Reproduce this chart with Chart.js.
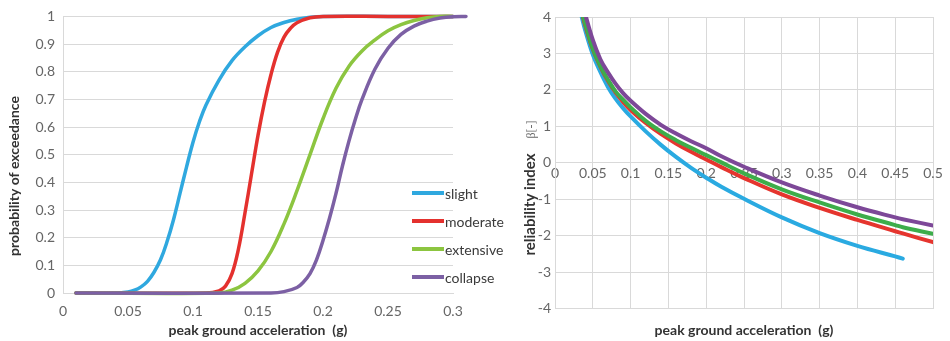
<!DOCTYPE html>
<html>
<head>
<meta charset="utf-8">
<script src="https://cdn.jsdelivr.net/npm/chart.js@4.4.1/dist/chart.umd.min.js"></script>
<style>
  html, body { margin: 0; padding: 0; background: #fff; }
  #wrap { position: relative; width: 950px; height: 341px; }
  #fragility { position: absolute; left: 0; top: 0; }
  #reliability { position: absolute; left: 505px; top: 0; }
</style>
</head>
<body>
<div id="wrap">
  <canvas id="fragility" width="505" height="341"></canvas>
  <canvas id="reliability" width="445" height="341"></canvas>
</div>
<script>
/* globals Chart:false */

// Damage states
const damageStates = ['slight', 'moderate', 'extensive', 'collapse']

// Fragility curves: PGA (g) and probability of exceedance
const pgaSlight = [0.01, 0.04, 0.05, 0.055, 0.06, 0.065, 0.07, 0.075, 0.08, 0.085, 0.09, 0.095, 0.1, 0.105, 0.11, 0.12, 0.13, 0.14, 0.15, 0.16, 0.17, 0.18, 0.19, 0.2, 0.25, 0.3]
const probSlight = [0, 0, 0.004, 0.01, 0.022, 0.042, 0.075, 0.12, 0.185, 0.265, 0.36, 0.455, 0.545, 0.62, 0.68, 0.77, 0.84, 0.89, 0.93, 0.96, 0.978, 0.99, 0.997, 1, 1, 1]

const pgaModerate = [0.01, 0.11, 0.12, 0.125, 0.13, 0.135, 0.14, 0.145, 0.15, 0.155, 0.16, 0.165, 0.17, 0.175, 0.18, 0.19, 0.2, 0.25, 0.3]
const probModerate = [0, 0, 0.008, 0.025, 0.07, 0.16, 0.29, 0.43, 0.57, 0.69, 0.79, 0.87, 0.925, 0.957, 0.977, 0.995, 1, 1, 1]

const pgaExtensive = [0.01, 0.12, 0.13, 0.14, 0.15, 0.16, 0.17, 0.18, 0.19, 0.2, 0.21, 0.22, 0.23, 0.24, 0.25, 0.26, 0.27, 0.28, 0.29, 0.3]
const probExtensive = [0, 0, 0.01, 0.035, 0.08, 0.15, 0.25, 0.37, 0.5, 0.63, 0.74, 0.82, 0.875, 0.915, 0.948, 0.97, 0.985, 0.995, 1, 1]

const pgaCollapse = [0.01, 0.16, 0.17, 0.18, 0.185, 0.19, 0.195, 0.2, 0.205, 0.21, 0.215, 0.22, 0.225, 0.23, 0.24, 0.25, 0.26, 0.27, 0.28, 0.29, 0.3, 0.31]
const probCollapse = [0, 0, 0.005, 0.02, 0.04, 0.07, 0.12, 0.19, 0.27, 0.36, 0.46, 0.55, 0.63, 0.7, 0.81, 0.885, 0.935, 0.965, 0.983, 0.994, 0.999, 1]

// Reliability index vs PGA
const pgaBeta = [0.035, 0.04, 0.05, 0.06, 0.07, 0.08, 0.09, 0.1, 0.12, 0.14, 0.16, 0.18, 0.2, 0.22, 0.25, 0.3, 0.35, 0.4, 0.45, 0.46, 0.5]
const betaSlight = [4.03, 3.63, 2.97, 2.49, 2.08, 1.76, 1.5, 1.27, 0.86, 0.49, 0.16, -0.14, -0.41, -0.66, -0.99, -1.5, -1.93, -2.28, -2.57, -2.63, null]
const betaModerate = [4.16, 3.77, 3.12, 2.64, 2.25, 1.93, 1.67, 1.45, 1.09, 0.79, 0.53, 0.3, 0.09, -0.12, -0.42, -0.87, -1.24, -1.57, -1.88, -1.94, -2.18]
const betaExtensive = [4.2, 3.81, 3.13, 2.65, 2.28, 1.96, 1.73, 1.52, 1.15, 0.86, 0.62, 0.41, 0.21, 0.01, -0.29, -0.73, -1.09, -1.42, -1.71, -1.77, -1.95]
const betaCollapse = [4.5, 4.08, 3.37, 2.84, 2.48, 2.17, 1.91, 1.7, 1.34, 1.04, 0.8, 0.59, 0.4, 0.18, -0.11, -0.54, -0.9, -1.22, -1.5, -1.55, -1.72]

// Tick values and labels
const fragXTicks = [0, 0.05, 0.1, 0.15, 0.2, 0.25, 0.3]
const fragXLabels = ['0', '0.05', '0.1', '0.15', '0.2', '0.25', '0.3']
const fragYTicks = [0, 0.1, 0.2, 0.3, 0.4, 0.5, 0.6, 0.7, 0.8, 0.9, 1]
const fragYLabels = ['0', '0.1', '0.2', '0.3', '0.4', '0.5', '0.6', '0.7', '0.8', '0.9', '1']
const betaXTicks = [0, 0.05, 0.1, 0.15, 0.2, 0.25, 0.3, 0.35, 0.4, 0.45, 0.5]
const betaXLabels = ['0', '0.05', '0.1', '0.15', '0.2', '0.25', '0.3', '0.35', '0.4', '0.45', '0.5']
const betaYTicks = [-4, -3, -2, -1, 0, 1, 2, 3, 4]
const betaYLabels = ['-4', '-3', '-2', '-1', '0', '1', '2', '3', '4']

const fragColors = ['#2fa8df', '#e4312e', '#8cc540', '#7c60a4']
const betaColors = ['#2aaae1', '#e5352e', '#3dad4a', '#7d4898']

const FONT = 'Lato, "Open Sans", sans-serif'
const gridColor = '#d9d9d9'
const tickColor = '#666666'
const titleColor = '#333333'

const toPoints = (xs, ys) => xs.map((x, i) => ({ x: x, y: ys[i] })).filter(p => p.y !== null)
const useTicks = (values) => (scale) => { scale.ticks = values.map(v => ({ value: v })) }

// rotated y title, centred like the spreadsheet does it (x is the text baseline)
const sideTitle = {
  id: 'sideTitle',
  afterDraw(chart, args, opts) {
    const ctx = chart.ctx
    ctx.save()
    ctx.translate(opts.x, opts.y)
    ctx.rotate(-Math.PI / 2)
    ctx.textBaseline = 'alphabetic'
    let total = 0
    opts.parts.forEach(p => {
      ctx.font = p.font
      p.w = ctx.measureText(p.text).width
      total += p.w + (p.gap || 0)
    })
    let x = -total / 2
    opts.parts.forEach(p => {
      x += p.gap || 0
      ctx.font = p.font
      ctx.fillStyle = p.color
      ctx.fillText(p.text, x, 0)
      x += p.w
    })
    ctx.restore()
  }
}

// legend sitting inside the plot, bottom right
const insideLegend = {
  id: 'insideLegend',
  afterDatasetsDraw(chart, args, opts) {
    if (!opts.show) return
    const { ctx, chartArea } = chart
    ctx.save()
    ctx.font = '14px ' + FONT
    ctx.textBaseline = 'middle'
    chart.data.datasets.forEach((ds, i) => {
      const y = chartArea.bottom - 100 + i * 28
      ctx.strokeStyle = ds.borderColor
      ctx.lineWidth = 4
      ctx.beginPath()
      ctx.moveTo(chartArea.right - 41, y)
      ctx.lineTo(chartArea.right - 9, y)
      ctx.stroke()
      ctx.fillStyle = '#3a3a3a'
      ctx.fillText(ds.label, chartArea.right - 8, y + 1)
    })
    ctx.restore()
  }
}

const tickFont = { family: FONT, size: 14 }
const titleFont = { family: FONT, size: 14, weight: 'bold' }

// Left: fragility curves
const fragSeries = [
  toPoints(pgaSlight, probSlight),
  toPoints(pgaModerate, probModerate),
  toPoints(pgaExtensive, probExtensive),
  toPoints(pgaCollapse, probCollapse)
]

new Chart(document.getElementById('fragility'), {
  type: 'line',
  data: {
    datasets: fragSeries.map((pts, i) => ({
      label: damageStates[i],
      data: pts,
      borderColor: fragColors[i],
      backgroundColor: fragColors[i],
      order: 3 - i,
      clip: false
    }))
  },
  options: {
    responsive: false,
    animation: false,
    layout: { padding: { left: 0, right: 52, top: 14, bottom: 0 } },
    elements: {
      point: { radius: 0 },
      line: { borderWidth: 3.5, tension: 0.4, capBezierPoints: false, borderCapStyle: 'round' }
    },
    plugins: {
      legend: { display: false },
      tooltip: { enabled: false },
      insideLegend: { show: true },
      sideTitle: {
        x: 19,
        y: 176,
        parts: [{ text: 'probability of exceedance', font: 'bold 14px ' + FONT, color: titleColor }]
      }
    },
    scales: {
      x: {
        type: 'linear',
        // range fixed here rather than with min/max so the last collapse point (past 0.3) is still drawn
        afterDataLimits: (s) => { s.min = 0; s.max = 0.3 },
        afterBuildTicks: useTicks(fragXTicks),
        ticks: { callback: (v, i) => fragXLabels[i], font: tickFont, color: tickColor, padding: 10, autoSkip: false, maxRotation: 0 },
        grid: { display: false, drawTicks: false },
        border: { color: gridColor },
        title: { display: true, text: 'peak ground acceleration  (g)', font: titleFont, color: titleColor, padding: { top: 0, bottom: 2 } },
        afterFit: (s) => { s.height = 48 }
      },
      y: {
        type: 'linear',
        min: 0,
        max: 1,
        afterBuildTicks: useTicks(fragYTicks),
        ticks: { callback: (v, i) => fragYLabels[i], font: tickFont, color: tickColor, padding: 8, autoSkip: false },
        grid: { color: gridColor, drawTicks: false },
        border: { color: gridColor },
        afterFit: (s) => { s.width = 63 }
      }
    }
  },
  plugins: [sideTitle, insideLegend]
})

// Right: reliability index
const betaSeries = [betaSlight, betaModerate, betaExtensive, betaCollapse]

new Chart(document.getElementById('reliability'), {
  type: 'line',
  data: {
    datasets: betaSeries.map((vals, i) => ({
      label: damageStates[i],
      data: toPoints(pgaBeta, vals),
      borderColor: betaColors[i],
      backgroundColor: betaColors[i],
      order: 3 - i
    }))
  },
  options: {
    responsive: false,
    animation: false,
    layout: { padding: { left: 0, right: 17, top: 17, bottom: 0 } },
    elements: {
      point: { radius: 0 },
      line: { borderWidth: 4, tension: 0.4, borderCapStyle: 'round' }
    },
    plugins: {
      legend: { display: false },
      tooltip: { enabled: false },
      insideLegend: { show: false },
      sideTitle: {
        x: 30,
        y: 188,
        parts: [
          { text: 'reliability index', font: 'bold 15px ' + FONT, color: titleColor },
          { text: 'β[-]', font: '12px "Liberation Serif", serif', color: '#666666', gap: 15 }
        ]
      }
    },
    scales: {
      x: {
        type: 'linear',
        min: 0,
        max: 0.5,
        afterBuildTicks: useTicks(betaXTicks),
        ticks: { display: false },
        grid: { color: gridColor, drawTicks: false },
        border: { color: gridColor },
        title: { display: true, text: 'peak ground acceleration  (g)', font: titleFont, color: titleColor, padding: { top: 0, bottom: 2 } },
        afterFit: (s) => { s.height = 32.5 }
      },
      xZero: {
        type: 'linear',
        axis: 'x',
        position: { y: 0 },
        min: 0,
        max: 0.5,
        afterBuildTicks: useTicks(betaXTicks),
        ticks: { callback: (v, i) => betaXLabels[i], font: tickFont, color: tickColor, padding: 2, autoSkip: false, maxRotation: 0 },
        grid: { display: false, drawTicks: false },
        border: { display: false },
        afterFit: (s) => { s.height = 0 }
      },
      y: {
        type: 'linear',
        min: -4,
        max: 4,
        afterBuildTicks: useTicks(betaYTicks),
        ticks: { callback: (v, i) => betaYLabels[i], font: tickFont, color: tickColor, padding: 4, autoSkip: false },
        grid: { color: gridColor, drawTicks: false },
        border: { color: gridColor },
        afterFit: (s) => { s.width = 50 }
      }
    }
  },
  plugins: [sideTitle, insideLegend]
})
</script>
</body>
</html>
